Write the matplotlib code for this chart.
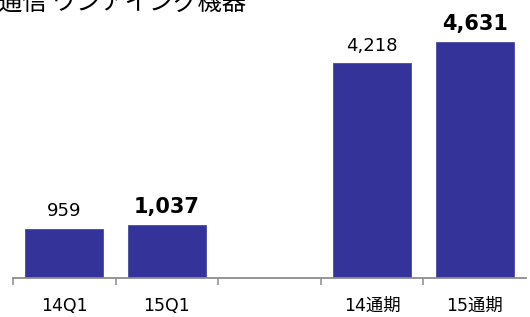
import matplotlib
matplotlib.use("Agg")
import matplotlib.pyplot as plt

# data
categories = ["14Q1", "15Q1", "", "14通期", "15通期"]
values = [959, 1037, None, 4218, 4631]
value_labels = ["959", "1,037", "", "4,218", "4,631"]
bold_flags = [False, True, False, False, True]
title = "通信 ワンアイング機器"

plt.rcParams['font.family'] = ['DejaVu Sans', 'Noto Sans CJK JP']

W, H = 530, 317
fig = plt.figure(figsize=(W / 100, H / 100), dpi=100)
ax = fig.add_axes([13 / W, 39.3 / H, 513 / W, 254 / H])

bar_color = "#333399"
for i, v in enumerate(values):
    if v is None:
        continue
    ax.bar(i, v, width=0.76, color=bar_color, edgecolor="#4a4aa8", linewidth=0.6)
    ax.annotate(value_labels[i], (i, v), xytext=(0, 9), textcoords="offset points",
                ha="center", va="baseline",
                fontsize=15 if bold_flags[i] else 13,
                fontweight="bold" if bold_flags[i] else "normal", color="black")

ax.set_xlim(-0.5, 4.5)
ax.set_ylim(0, 5000)

for s in ["top", "right", "left"]:
    ax.spines[s].set_visible(False)
ax.spines["bottom"].set_color("#8c8c8c")
ax.spines["bottom"].set_linewidth(1.3)
ax.set_yticks([])

ax.set_xticks(range(len(categories)))
ax.set_xticklabels(categories, fontsize=12.5)
ax.tick_params(axis="x", which="major", length=0, pad=14)
ax.set_xticks([-0.5, 0.5, 1.5, 2.5, 3.5], minor=True)
ax.tick_params(axis="x", which="minor", length=5, width=1.1, color="#8c8c8c")

fig.text(-2 / W, 1 - 10 / H, title, fontsize=17.5, va="baseline", ha="left",
         family=["Noto Sans CJK JP", "DejaVu Sans"])

fig.savefig("out.png", dpi=100)
